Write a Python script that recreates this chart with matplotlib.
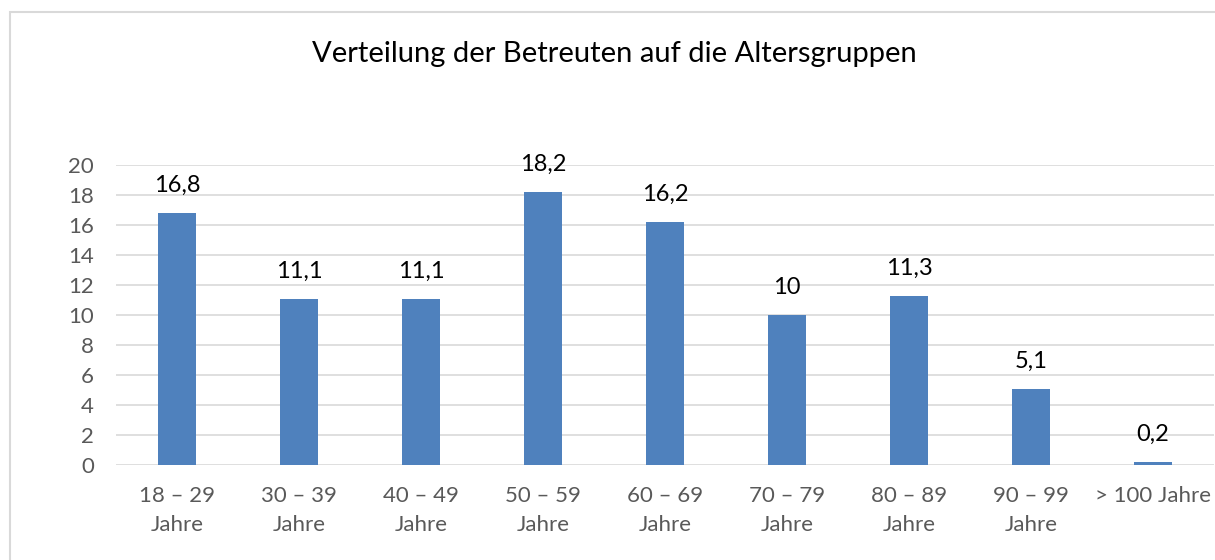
import matplotlib.pyplot as plt
from matplotlib.patches import Rectangle

plt.rcParams['font.family'] = ['Lato', 'DejaVu Sans']

categories = ['18 – 29\nJahre', '30 – 39\nJahre', '40 – 49\nJahre', '50 – 59\nJahre',
              '60 – 69\nJahre', '70 – 79\nJahre', '80 – 89\nJahre', '90 – 99\nJahre',
              '> 100 Jahre']
values = [16.8, 11.1, 11.1, 18.2, 16.2, 10, 11.3, 5.1, 0.2]
value_labels = ['16,8', '11,1', '11,1', '18,2', '16,2', '10', '11,3', '5,1', '0,2']
yticks = [0, 2, 4, 6, 8, 10, 12, 14, 16, 18, 20]

fig = plt.figure(figsize=(12.15, 5.6), dpi=100)
fig.patches.append(Rectangle((10 / 1215, -0.1), 1.2, 1 - 12 / 560 + 0.1,
                             transform=fig.transFigure, fill=False,
                             edgecolor='#d9d9d9', linewidth=1.5))

ax = fig.add_axes([116 / 1215, 95 / 560, 1098 / 1215, 300 / 560])
x = range(len(categories))
bars = ax.bar(x, values, width=0.31, color='#4f81bd', zorder=3)

for i, (v, lab) in enumerate(zip(values, value_labels)):
    ax.annotate(lab, (i, v), xytext=(0, 12), textcoords='offset points',
                ha='center', va='bottom', fontsize=17, color='black')

ax.set_xlim(-0.5, len(categories) - 0.5)
ax.set_ylim(0, 20)
ax.set_yticks(yticks)
ax.set_xticks(list(x))
ax.set_xticklabels(categories, fontsize=16, color='#595959', linespacing=1.6)
ax.tick_params(axis='y', labelsize=16, labelcolor='#595959', length=0, pad=16)
ax.tick_params(axis='x', length=0, pad=15)
ax.grid(axis='y', color='#d9d9d9', linewidth=1.2, zorder=0)
for s in ax.spines.values():
    s.set_visible(False)

fig.text(614 / 1215, 1 - 54 / 560, 'Verteilung der Betreuten auf die Altersgruppen',
         ha='center', va='center', fontsize=21, color='black')

fig.savefig('out.png', dpi=100)
